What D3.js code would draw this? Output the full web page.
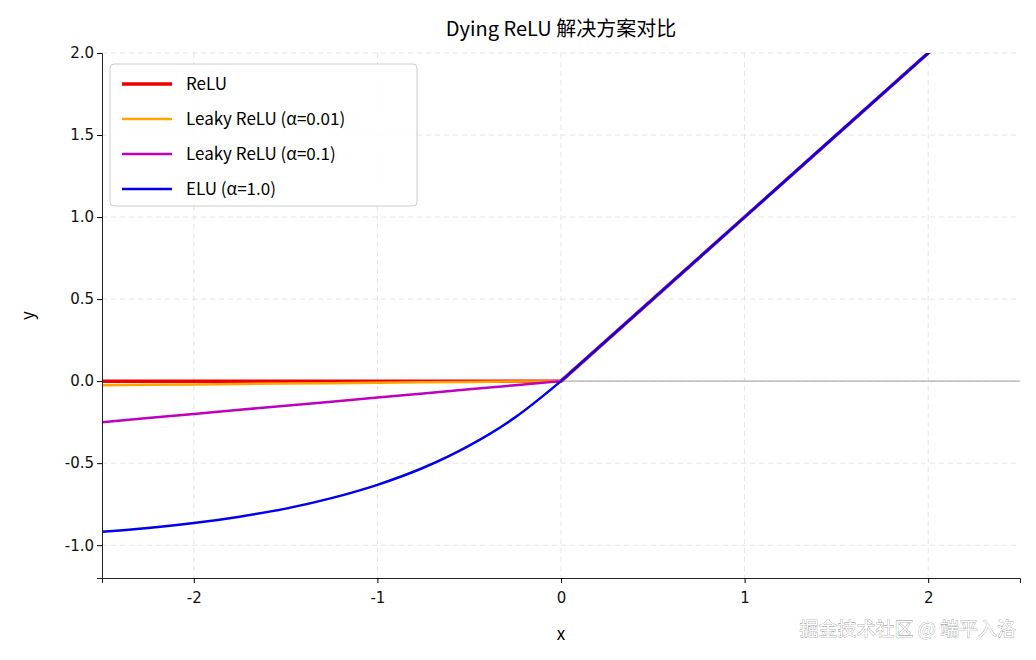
<!DOCTYPE html>
<html><head><meta charset="utf-8">
<script src="https://cdn.jsdelivr.net/npm/d3@7"></script>
<style>body{margin:0;background:#fff}text{font-family:"Noto Sans CJK SC","DejaVu Sans",sans-serif}</style>
</head><body><div id="vis"></div>
<script>
// x samples and the values
const xs = [-2.5, -2.25, -2.0, -1.75, -1.5, -1.25, -1.0, -0.75, -0.5, -0.25, 0, 0.5, 1.0, 1.5, 2.0, 2.5];
const relu = [0, 0, 0, 0, 0, 0, 0, 0, 0, 0, 0, 0.5, 1.0, 1.5, 2.0, 2.5];
const leaky01 = [-0.025, -0.0225, -0.02, -0.0175, -0.015, -0.0125, -0.01, -0.0075, -0.005, -0.0025, 0, 0.5, 1.0, 1.5, 2.0, 2.5];
const leaky1 = [-0.25, -0.225, -0.2, -0.175, -0.15, -0.125, -0.1, -0.075, -0.05, -0.025, 0, 0.5, 1.0, 1.5, 2.0, 2.5];
const elu = [-0.918, -0.895, -0.865, -0.826, -0.777, -0.713, -0.632, -0.528, -0.393, -0.221, 0, 0.5, 1.0, 1.5, 2.0, 2.5];
const seriesNames = ["ReLU", "Leaky ReLU (α=0.01)", "Leaky ReLU (α=0.1)", "ELU (α=1.0)"];
const seriesColors = ["#ee0000", "#ffa500", "#bf00bf", "#0000ee"];
const xTicks = [-2, -1, 0, 1, 2];
const yTicks = [-1.0, -0.5, 0.0, 0.5, 1.0, 1.5, 2.0];

const margin = {top: 53, right: 16, bottom: 82, left: 102};
const W = 1036, H = 660;
const width = W - margin.left - margin.right, height = H - margin.top - margin.bottom;

const svg = d3.select('#vis').append('svg').attr('width', W).attr('height', H);
const g = svg.append('g').attr('transform', `translate(${margin.left},${margin.top})`);

const x = d3.scaleLinear().domain([-2.5, 2.5]).range([0, width]);
const y = d3.scaleLinear().domain([-1.2, 2.0]).range([height, 0]);

// grid
g.selectAll('.gx').data(xTicks).join('line').attr('x1', d => x(d)).attr('x2', d => x(d))
  .attr('y1', 0).attr('y2', height).attr('stroke', '#e4e4e4').attr('stroke-dasharray', '5,4');
g.selectAll('.gy').data(yTicks).join('line').attr('y1', d => y(d)).attr('y2', d => y(d))
  .attr('x1', 0).attr('x2', width).attr('stroke', '#e4e4e4').attr('stroke-dasharray', '5,4');

g.append('line').attr('x1', 0).attr('x2', width).attr('y1', y(0)).attr('y2', y(0))
  .attr('stroke', '#b0b0b0').attr('stroke-width', 1.2);

svg.append('clipPath').attr('id', 'clip').append('rect').attr('width', width).attr('height', height);

const series = [relu, leaky01, leaky1, elu];
const line = d3.line().x((d, i) => x(xs[i])).y(d => y(d)).curve(d3.curveMonotoneX);
series.forEach((s, k) => {
  // piecewise lines stay straight; only ELU's negative half is curved
  const ln = k === 3
    ? d3.line().x((d, i) => x(xs[i])).y(d => y(d)).defined((d, i) => xs[i] <= 0).curve(d3.curveMonotoneX)
    : d3.line().x((d, i) => x(xs[i])).y(d => y(d));
  g.append('path').datum(s).attr('d', ln).attr('fill', 'none').attr('clip-path', 'url(#clip)')
    .attr('stroke', seriesColors[k]).attr('stroke-width', k === 0 ? 3.5 : 2.5);
  if (k === 3) {
    g.append('path').datum(s).attr('fill', 'none').attr('clip-path', 'url(#clip)')
      .attr('d', d3.line().x((d, i) => x(xs[i])).y(d => y(d)).defined((d, i) => xs[i] >= 0))
      .attr('stroke', seriesColors[k]).attr('stroke-width', 2.5);
  }
});

const fmtX = d => d3.format('d')(d).replace('−', '-');
const fmtY = d => d3.format('.1f')(d).replace('−', '-');
const xAxis = g.append('g').attr('transform', `translate(0,${height})`)
  .call(d3.axisBottom(x).tickValues(xTicks).tickFormat(fmtX).tickSize(5));
const yAxis = g.append('g').call(d3.axisLeft(y).tickValues(yTicks).tickFormat(fmtY).tickSize(5));
[xAxis, yAxis].forEach(a => {
  a.selectAll('text').attr('font-size', 15).attr('fill', '#111').style('font-family', '"DejaVu Sans",sans-serif');
  a.select('.domain').attr('stroke', '#222');
});
xAxis.selectAll('text').attr('dy', '1.1em');

svg.append('text').attr('x', margin.left + width / 2).attr('y', 36).attr('text-anchor', 'middle')
  .attr('font-size', 20).text('Dying ReLU 解决方案对比');
svg.append('text').attr('x', margin.left + width / 2).attr('y', 640).attr('text-anchor', 'middle')
  .attr('font-size', 17).text('x');
svg.append('text').attr('transform', `translate(34,${margin.top + height / 2}) rotate(-90)`)
  .attr('text-anchor', 'middle').attr('font-size', 17).text('y');

// legend
const lg = svg.append('g').attr('transform', 'translate(110,64)');
lg.append('rect').attr('width', 307).attr('height', 142).attr('rx', 4)
  .attr('fill', '#fff').attr('fill-opacity', 0.85).attr('stroke', '#ccc');
seriesNames.forEach((n, k) => {
  const yy = 20 + k * 35;
  lg.append('line').attr('x1', 12).attr('x2', 62).attr('y1', yy).attr('y2', yy)
    .attr('stroke', seriesColors[k]).attr('stroke-width', k === 0 ? 3.5 : 2.5);
  lg.append('text').attr('x', 76).attr('y', yy + 6).attr('font-size', 17).text(n);
});

svg.append('text').attr('x', 1016).attr('y', 636).attr('text-anchor', 'end').attr('font-size', 19)
  .attr('fill', '#fff').attr('stroke', '#777').attr('stroke-width', 0.6).attr('paint-order', 'stroke')
  .attr('opacity', 0.9).text('掘金技术社区 @ 端平入洛');
</script></body></html>
